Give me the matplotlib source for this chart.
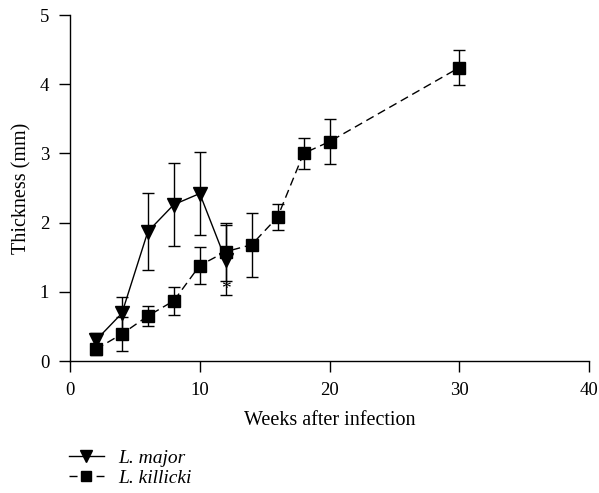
import matplotlib
matplotlib.use("Agg")
import matplotlib.pyplot as plt
from matplotlib.lines import Line2D

plt.rcParams['font.family'] = ['Liberation Serif', 'DejaVu Serif']

major_weeks = [2, 4, 6, 8, 10, 12]
major_vals = [0.30, 0.69, 1.87, 2.26, 2.42, 1.46]
major_err = [0.11, 0.24, 0.56, 0.60, 0.60, 0.50]

kill_weeks = [2, 4, 6, 8, 10, 12, 14, 16, 18, 20, 30]
kill_vals = [0.17, 0.39, 0.65, 0.87, 1.38, 1.58, 1.68, 2.08, 3.00, 3.17, 4.24]
kill_err = [0.08, 0.24, 0.15, 0.20, 0.27, 0.42, 0.46, 0.19, 0.22, 0.32, 0.25]

x_ticks = [0, 10, 20, 30, 40]
y_ticks = [0, 1, 2, 3, 4, 5]

fig = plt.figure(figsize=(5.99, 4.93), dpi=100)
ax = fig.add_axes([70/599, 1-361/493, 519/599, 346/493])

ax.errorbar(kill_weeks, kill_vals, yerr=kill_err, color='black', lw=1.0,
            ls=(0, (6, 3.5)), marker='s', ms=8.5, capsize=4.4, elinewidth=1.0,
            capthick=1.0, zorder=3)
ax.errorbar(major_weeks, major_vals, yerr=major_err, color='black', lw=1.0,
            ls='-', marker='v', ms=9.5, capsize=4.4, elinewidth=1.0,
            capthick=1.0, zorder=4)
ax.text(12, 1.03, '*', ha='center', va='center', fontsize=14)

ax.set_xlim(0, 40)
ax.set_ylim(0, 5)
ax.set_xticks(x_ticks)
ax.set_yticks(y_ticks)
for s in ['top', 'right']:
    ax.spines[s].set_visible(False)
for s in ['left', 'bottom']:
    ax.spines[s].set_linewidth(1.0)
ax.tick_params(direction='out', length=8, width=1.0, labelsize=13.5, pad=7)
ax.set_xlabel('Weeks after infection', fontsize=14.5, labelpad=9)
ax.set_ylabel('Thickness (mm)', fontsize=14.5, labelpad=6)

h1 = Line2D([], [], color='black', lw=1.0, ls='-', marker='v', ms=8)
h2 = Line2D([], [], color='black', lw=1.0, ls=(0, (5.8, 13.7)), marker='s', ms=7)
fig.legend([h1, h2], ['L. major', 'L. killicki'], loc='lower left',
           bbox_to_anchor=(61/599, -2/493), frameon=False, handlelength=1.8,
           prop={'style': 'italic', 'size': 14}, labelspacing=0.15,
           handletextpad=0.75, borderaxespad=0.0)

fig.savefig('out.png', dpi=100)
